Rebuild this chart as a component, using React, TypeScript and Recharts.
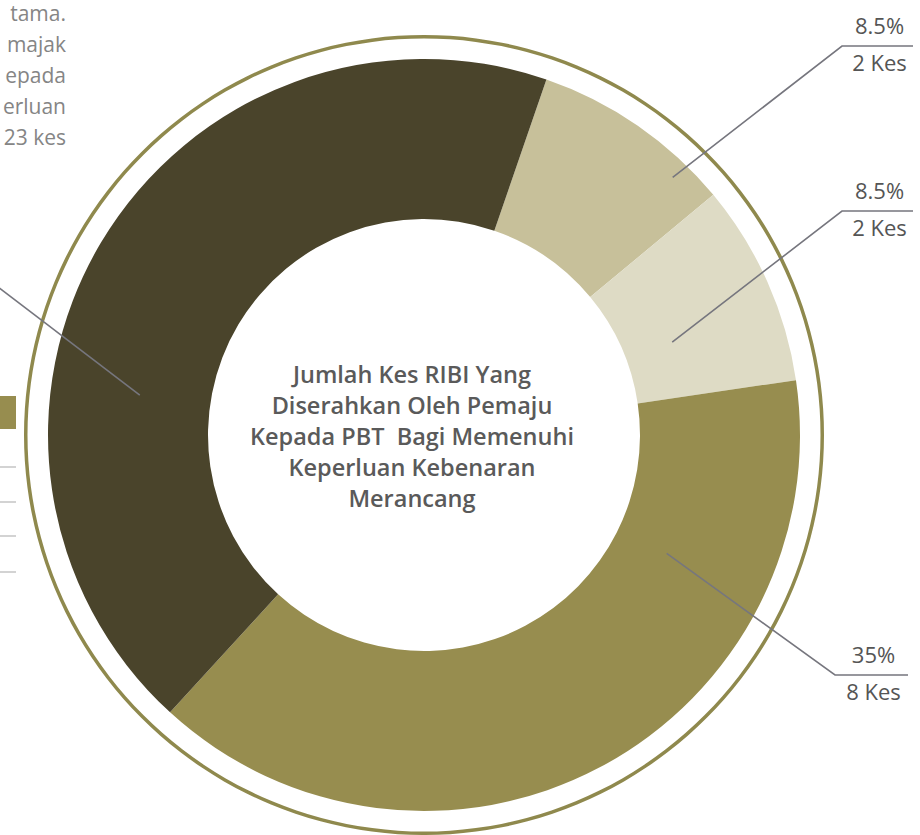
import React from 'react';
import { PieChart, Pie, Cell } from 'recharts';

// slice values (kes), drawn clockwise starting from the top-right
const sliceNames = ['Kategori A', 'Kategori B', 'Kategori C', 'Kategori D'];
const sliceValues = [2, 2, 9, 10];
const slicePercentText = ['8.5%', '8.5%', '35%', ''];
const sliceKesText = ['2 Kes', '2 Kes', '8 Kes', ''];

const centerTitle = [
  'Jumlah Kes RIBI Yang',
  'Diserahkan Oleh Pemaju',
  'Kepada PBT  Bagi Memenuhi',
  'Keperluan Kebenaran',
  'Merancang',
];

const sideTextLines = ['tama.', 'majak', 'epada', 'erluan', '23 kes'];

const COLORS = ['#c7c09a', '#dedbc5', '#978d4f', '#4a442b'];
const RING = '#8f894d';
const TEXT = '#555555';
const LEADER = '#76767e';

// leader line placement: anchor (angle clockwise from top, radius), elbow, end
const labelLayout = [
  { angle: 44, r: 358, elbowX: 842, elbowY: 46, endX: 913 },
  { angle: 69.5, r: 265, elbowX: 842, elbowY: 211, endX: 913 },
  { angle: 116, r: 270, elbowX: 835, elbowY: 675, endX: 908 },
  { angle: 278, r: 287, elbowX: -10, elbowY: 281, endX: -10 },
];

const data = sliceValues.map((v, i) => ({ name: sliceNames[i], value: v }));

const START = 71; // recharts angle (ccw from 3 o'clock)

function renderLabel(props: any) {
  const { cx, cy, index } = props;
  const l = labelLayout[index];
  const rad = (l.angle * Math.PI) / 180;
  const ax = cx + l.r * Math.sin(rad);
  const ay = cy - l.r * Math.cos(rad);
  const tx = (l.elbowX + l.endX) / 2 + 2;
  return (
    <g key={`lbl-${index}`}>
      <polyline
        points={`${ax},${ay} ${l.elbowX},${l.elbowY} ${l.endX},${l.elbowY}`}
        fill="none"
        stroke={LEADER}
        strokeWidth={1.6}
      />
      {slicePercentText[index] && (
        <text x={tx} y={l.elbowY - 12} textAnchor="middle" fill={TEXT} fontSize={22} fontFamily="Open Sans">
          {slicePercentText[index]}
        </text>
      )}
      {sliceKesText[index] && (
        <text x={tx} y={l.elbowY + 25} textAnchor="middle" fill={TEXT} fontSize={22} fontFamily="Open Sans">
          {sliceKesText[index]}
        </text>
      )}
    </g>
  );
}

export default function App() {
  return (
    <div style={{ position: 'absolute', left: 0, top: 0, width: 920, height: 835, background: '#fff', overflow: 'hidden' }}>
      <svg width={920} height={835} style={{ position: 'absolute', left: 0, top: 0 }}>
        {sideTextLines.map((t, i) => (
          <text key={t} x={66} y={21 + i * 31} textAnchor="end" fill="#858585" fontSize={21} fontFamily="Open Sans">
            {t}
          </text>
        ))}
        <rect x={0} y={396} width={16} height={33} fill="#978d4f" />
        {[467, 502, 536, 572].map((y) => (
          <line key={y} x1={0} x2={16} y1={y} y2={y} stroke="#c4c4c4" strokeWidth={1.5} />
        ))}
      </svg>
      <div style={{ position: 'absolute', left: 0, top: 0 }}>
        <PieChart width={920} height={835}>
          <Pie
            data={[{ name: 'ring', value: 1 }]}
            dataKey="value"
            cx={419}
            cy={430}
            innerRadius={396.5}
            outerRadius={400}
            fill={RING}
            stroke="none"
            isAnimationActive={false}
          />
          <Pie
            data={data}
            dataKey="value"
            cx={419}
            cy={430}
            innerRadius={216}
            outerRadius={376}
            startAngle={START}
            endAngle={START - 360}
            stroke="none"
            label={renderLabel}
            labelLine={false}
            isAnimationActive={false}
          >
            {data.map((d, i) => (
              <Cell key={`cell-${i}`} fill={COLORS[i]} />
            ))}
          </Pie>
        </PieChart>
      </div>
      <svg width={920} height={835} style={{ position: 'absolute', left: 0, top: 0, pointerEvents: 'none' }}>
        {centerTitle.map((t, i) => (
          <text
            key={t}
            x={412}
            y={383 + i * 31}
            textAnchor="middle"
            fill="#5a5a5a"
            fontSize={23.5}
            fontWeight={600}
            fontFamily="Open Sans"
            style={{ whiteSpace: 'pre' }}
          >
            {t}
          </text>
        ))}
      </svg>
    </div>
  );
}
